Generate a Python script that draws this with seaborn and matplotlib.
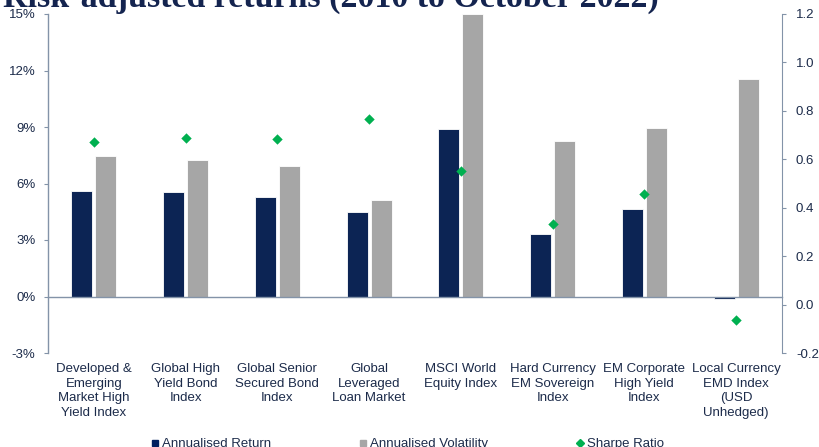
import numpy as np
import pandas as pd
import matplotlib
matplotlib.use("Agg")
import matplotlib.pyplot as plt
from matplotlib.lines import Line2D
from matplotlib import font_manager
import seaborn as sns

categories = [
    "Developed &\nEmerging\nMarket High\nYield Index",
    "Global High\nYield Bond\nIndex",
    "Global Senior\nSecured Bond\nIndex",
    "Global\nLeveraged\nLoan Market",
    "MSCI World\nEquity Index",
    "Hard Currency\nEM Sovereign\nIndex",
    "EM Corporate\nHigh Yield\nIndex",
    "Local Currency\nEMD Index\n(USD\nUnhedged)",
]
annualised_return = [5.62, 5.57, 5.27, 4.49, 8.92, 3.33, 4.65, -0.15]
annualised_volatility = [7.48, 7.25, 6.91, 5.10, 15.0, 8.26, 8.95, 11.56]
sharpe_ratio = [0.672, 0.686, 0.682, 0.766, 0.553, 0.334, 0.457, -0.063]
left_ticks = [-3, 0, 3, 6, 9, 12, 15]
right_ticks = [-0.2, 0.0, 0.2, 0.4, 0.6, 0.8, 1.0, 1.2]

NAVY = "#002060"
GREY = "#A6A6A6"
GREEN = "#00B050"
TEXT = "#1c2b4a"
AXIS = "#8393a8"

sns.set_style("white")
names = {f.name for f in font_manager.fontManager.ttflist}
base_font = "Liberation Sans Narrow" if "Liberation Sans Narrow" in names else "Liberation Sans"
plt.rcParams["font.family"] = [base_font, "DejaVu Sans"]
FS = 9.5

df = pd.DataFrame({
    "category": categories * 2,
    "series": ["Annualised Return"] * len(categories) + ["Annualised Volatility"] * len(categories),
    "value": annualised_return + annualised_volatility,
})

fig = plt.figure(figsize=(8.19, 4.47), dpi=100)
ax = fig.add_axes([48 / 819, 94 / 447, 734 / 819, 339 / 447])

sns.barplot(data=df, x="category", y="value", hue="series",
            palette=[NAVY, GREY], width=0.52, gap=0.12, ax=ax,
            edgecolor="white", linewidth=0.6, legend=False)

ax.set_ylim(-3, 15)
ax.set_yticks(left_ticks)
ax.set_yticklabels([f"{t}%" for t in left_ticks])
ax.set_xlim(-0.5, len(categories) - 0.5)
ax.set_xlabel("")
ax.set_ylabel("")

# zero line carries the category axis
ax.spines["bottom"].set_position(("data", 0))
ax.spines["top"].set_visible(False)
ax.spines["right"].set_visible(False)
for s in ("bottom", "left"):
    ax.spines[s].set_color(AXIS)
    ax.spines[s].set_linewidth(1.0)
ax.set_xticks(np.arange(len(categories)))
ax.set_xticklabels(categories, fontsize=FS, color=TEXT, linespacing=1.28, va="top")
ax.tick_params(axis="x", which="major", length=0, pad=48)
ax.set_xticks(np.arange(len(categories) - 1) + 0.5, minor=True)
ax.tick_params(axis="x", which="minor", length=4, color=AXIS, direction="out")
ax.tick_params(axis="y", length=3, color=AXIS, labelsize=FS, labelcolor=TEXT, pad=6)

ax2 = ax.twinx()
ax2.set_position(ax.get_position())
sns.scatterplot(x=np.arange(len(categories)), y=sharpe_ratio, marker="D",
                color=GREEN, s=28, edgecolor=GREEN, linewidth=0, ax=ax2, zorder=5)
ax2.set_ylim(-0.2, 1.2)
ax2.set_yticks(right_ticks)
ax2.set_yticklabels([f"{t:.1f}" for t in right_ticks])
for s in ("top", "left", "bottom"):
    ax2.spines[s].set_visible(False)
ax2.spines["right"].set_color(AXIS)
ax2.tick_params(axis="y", length=3, color=AXIS, labelsize=FS, labelcolor=TEXT, pad=7)

handles = [
    Line2D([], [], marker="s", color=NAVY, linestyle="none", markersize=5),
    Line2D([], [], marker="s", color=GREY, linestyle="none", markersize=5),
    Line2D([], [], marker="D", color=GREEN, linestyle="none", markersize=4),
]
fig.legend(handles, ["Annualised Return", "Annualised Volatility", "Sharpe Ratio"],
           loc="center", bbox_to_anchor=(0.497, 3 / 447), ncol=3, frameon=False,
           fontsize=FS, labelcolor=TEXT, handletextpad=0.1, columnspacing=6.6,
           handlelength=0.8)

fig.text(3 / 819, 1 - 7 / 447, "Risk-adjusted returns (2010 to October 2022)",
         family=["Liberation Serif", "DejaVu Serif"], fontweight="bold",
         fontsize=24.5, color="#14244f", ha="left", va="baseline")

fig.savefig("out.png", dpi=100)
